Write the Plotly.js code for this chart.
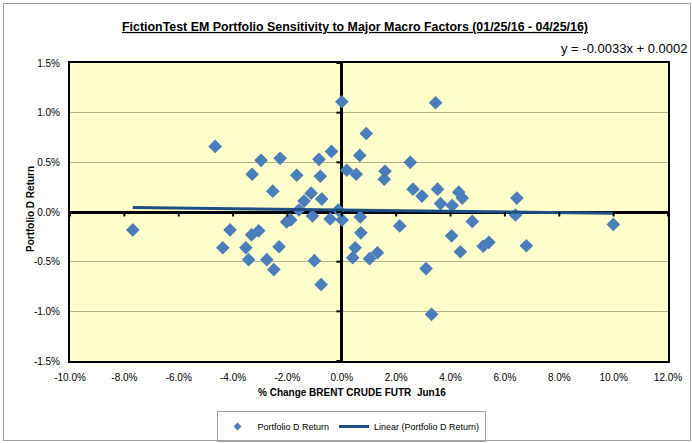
<!DOCTYPE html>
<html>
<head>
<meta charset="utf-8">
<script src="https://cdn.plot.ly/plotly-3.0.1.min.js"></script>
<style>
  body { margin: 0; background: #fff; }
  #chart { width: 692px; height: 443px; }
  .frame { position: absolute; left: 3px; top: 3px; width: 686px; height: 436px;
           border: 1px solid #a0a0a0; pointer-events: none; }
</style>
</head>
<body>
<div id="chart"></div>
<div class="frame"></div>
<script>
// % change in Brent crude (x) vs portfolio D return (y), both in percent
var brentChange = [-7.69, -4.66, -4.38, -4.11, -3.53, -3.43, -3.32, -3.30, -3.06, -2.97,
  -2.76, -2.54, -2.50, -2.31, -2.27, -2.03, -1.88, -1.66, -1.58, -1.39,
  -1.13, -1.08, -1.01, -0.84, -0.79, -0.76, -0.74, -0.43, -0.38, -0.13,
  0.00, 0.01, 0.18, 0.40, 0.49, 0.53, 0.66, 0.68, 0.70, 0.90,
  1.02, 1.31, 1.56, 1.59, 2.13, 2.52, 2.62, 2.95, 3.10, 3.30,
  3.45, 3.52, 3.63, 4.04, 4.06, 4.30, 4.36, 4.43, 4.80, 5.20,
  5.41, 6.39, 6.44, 6.79, 9.99];
var portfolioReturn = [-0.18, 0.66, -0.36, -0.18, -0.36, -0.48, -0.23, 0.38, -0.19, 0.52,
  -0.48, 0.21, -0.58, -0.35, 0.54, -0.10, -0.08, 0.37, 0.02, 0.11,
  0.19, -0.04, -0.49, 0.53, 0.36, -0.73, 0.13, -0.07, 0.61, 0.02,
  1.11, -0.08, 0.42, -0.46, -0.36, 0.38, 0.57, -0.05, -0.21, 0.79,
  -0.47, -0.41, 0.33, 0.41, -0.14, 0.50, 0.23, 0.16, -0.57, -1.03,
  1.10, 0.23, 0.085, -0.24, 0.065, 0.20, -0.40, 0.14, -0.095, -0.345,
  -0.305, -0.03, 0.14, -0.34, -0.125];

// trendline from the chart: y = -0.0033x + 0.0002 (fractions)
var slope = -0.0033;
var intercept = 0.0002;

var xTicks = [-10, -8, -6, -4, -2, 0, 2, 4, 6, 8, 10, 12];
var yTicks = [-1.5, -1.0, -0.5, 0.0, 0.5, 1.0, 1.5];

var xMin = Math.min.apply(null, brentChange);
var xMax = Math.max.apply(null, brentChange);
var trendX = [xMin, xMax];
var trendY = trendX.map(function (x) { return slope * x + intercept * 100; });

var points = {
  x: brentChange,
  y: portfolioReturn,
  mode: 'markers',
  type: 'scatter',
  name: 'Portfolio D Return',
  showlegend: false,
  marker: { symbol: 'diamond', size: 10.5, color: '#4a7ebb' }
};

// legend-only stand-in so the legend diamond stays small like the original
var pointsKey = {
  x: [null],
  y: [null],
  mode: 'markers',
  type: 'scatter',
  name: 'Portfolio D Return',
  marker: { symbol: 'diamond', size: 6, color: '#4a7ebb' }
};

var trend = {
  x: trendX,
  y: trendY,
  mode: 'lines',
  type: 'scatter',
  name: 'Linear (Portfolio D Return)',
  line: { color: '#1f4e85', width: 3 }
};

// little cross ticks that sit on the zero axes
var tickShapes = [];
xTicks.forEach(function (t) {
  tickShapes.push({ type: 'line', xref: 'x', yref: 'y', x0: t, x1: t, y0: 0, y1: -0.045,
    line: { color: '#000', width: 2 } });
});
yTicks.forEach(function (t) {
  tickShapes.push({ type: 'line', xref: 'x', yref: 'y', x0: 0, x1: -0.2, y0: t, y1: t,
    line: { color: '#000', width: 2 } });
});

var layout = {
  width: 692,
  height: 443,
  margin: { l: 70, r: 24, t: 63, b: 82 },
  paper_bgcolor: '#ffffff',
  plot_bgcolor: '#ffffcc',
  font: { family: 'Liberation Sans, Arial, sans-serif', size: 10, color: '#000' },
  showlegend: true,
  title: {
    text: '<u>FictionTest EM Portfolio Sensitivity to Major Macro Factors (01/25/16 - 04/25/16)</u>',
    font: { family: 'Liberation Sans, Arial, sans-serif', size: 12.4, weight: 'bold' },
    x: 0.513, xanchor: 'center', y: 0.94, yanchor: 'middle'
  },
  xaxis: {
    range: [-10, 12],
    tickvals: xTicks,
    ticktext: xTicks.map(function (v) { return v.toFixed(1) + '%'; }),
    showgrid: false,
    zeroline: true, zerolinecolor: '#000', zerolinewidth: 3,
    showline: true, linecolor: '#000', linewidth: 2, mirror: true,
    ticks: 'outside', ticklen: 6, tickcolor: 'rgba(0,0,0,0)',
    tickfont: { size: 10 },
    automargin: false,
    fixedrange: true
  },
  yaxis: {
    range: [-1.5, 1.5],
    tickvals: yTicks,
    ticktext: yTicks.map(function (v) { return v.toFixed(1) + '%'; }),
    showgrid: true, gridcolor: '#b4b48c', gridwidth: 1,
    zeroline: true, zerolinecolor: '#000', zerolinewidth: 3,
    showline: true, linecolor: '#000', linewidth: 2, mirror: true,
    ticks: 'outside', ticklen: 6, tickcolor: 'rgba(0,0,0,0)',
    tickfont: { size: 10 },
    automargin: false,
    fixedrange: true
  },
  shapes: tickShapes,
  annotations: [
    { xref: 'paper', yref: 'paper', x: 1.035, y: 1.05, xanchor: 'right', yanchor: 'middle',
      text: 'y = -0.0033x + 0.0002', showarrow: false, font: { size: 13 } },
    { xref: 'paper', yref: 'paper', x: (352 - 70) / 598, y: -0.107, xanchor: 'center', yanchor: 'middle',
      text: '<b>% Change BRENT CRUDE FUTR  Jun16</b>', showarrow: false, font: { size: 10 } },
    { xref: 'paper', yref: 'paper', x: (30 - 70) / 598, y: 0.51, xanchor: 'center', yanchor: 'middle',
      text: '<b>Portfolio D Return</b>', textangle: -90, showarrow: false, font: { size: 10 } }
  ],
  legend: {
    orientation: 'h',
    xref: 'container', yref: 'container',
    x: 351 / 692, xanchor: 'center',
    y: (443 - 411) / 443, yanchor: 'top',
    bordercolor: '#a0a0a0', borderwidth: 1,
    bgcolor: '#ffffff',
    font: { size: 9 }
  }
};

Plotly.newPlot('chart', [points, pointsKey, trend], layout, { displayModeBar: false, staticPlot: true });
</script>
</body>
</html>
